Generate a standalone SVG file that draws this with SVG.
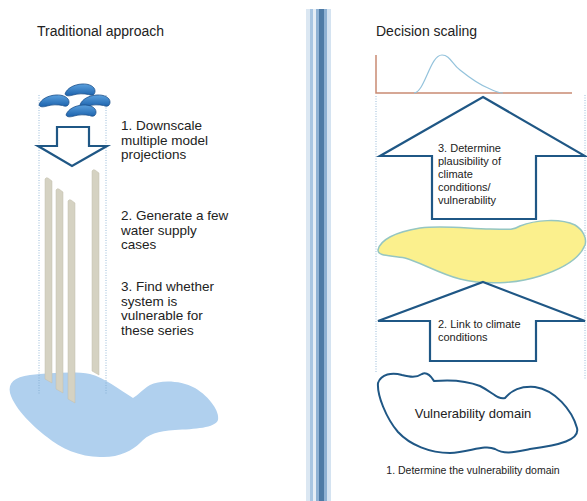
<svg xmlns="http://www.w3.org/2000/svg" width="587" height="501" viewBox="0 0 587 501">
<defs>
<linearGradient id="cg" x1="0" y1="0" x2="0" y2="1">
<stop offset="0" stop-color="#5aa0de"/>
<stop offset="1" stop-color="#1c62ac"/>
</linearGradient>
<path id="cloud" d="M0,10 C2,4 9,0.5 17,0 C24,-0.5 30,2.5 30,7 C30,11 27,12 23.5,10.5 C19,9.5 13,9.5 8,11 C5,12 1,12.5 0,10 Z"/>
</defs>
<style>
.t{font-family:"Liberation Sans",Arial,sans-serif;fill:#222;}
.dot{stroke:#7fa9cf;stroke-width:0.8;stroke-dasharray:1 1.5;fill:none;}
.arr{fill:#fff;stroke:#1f5785;stroke-width:2.2;stroke-linejoin:miter;}
.bar{fill:#d5d2c2;stroke:#c2bfad;stroke-width:0.5;}
.cl{fill:url(#cg);stroke:#1a4f8a;stroke-width:0.8;}
</style>
<rect width="587" height="501" fill="#fff"/>

<g id="divider">
<rect x="306" y="9" width="4" height="492" fill="#dbe7f2"/>
<rect x="310" y="9" width="3" height="492" fill="#a9c6e2"/>
<rect x="313" y="9" width="3" height="492" fill="#e6eef6"/>
<rect x="316" y="9" width="3" height="492" fill="#8fb2d4"/>
<rect x="319" y="9" width="5" height="492" fill="#4d7aa5"/>
<rect x="324" y="9" width="3" height="492" fill="#8db0d2"/>
<rect x="327" y="9" width="4" height="492" fill="#d4e3f1"/>
</g>

<g id="left-panel">
<text class="t" x="37" y="36" font-size="14">Traditional approach</text>
<path id="water" d="M10,393 C8,383 14,377 30,375 C50,373 75,371 90,374 C105,378 120,390 133,398 C138,395 142,390 150,385 C160,380 180,380 195,388 C210,397 220,412 218,420 C215,428 195,429 175,430 C158,431 148,434 140,443 C132,451 118,458 100,457 C80,457 60,448 47,437 C35,428 15,410 10,393 Z" fill="#b0d0ee"/>
<g id="bars">
<path class="bar" d="M45,179 Q46,177 48,178 L52,181 L52,383 L45,379 Z"/>
<path class="bar" d="M56,190 Q57,188 59,189 L63,192 L63,393 L56,389 Z"/>
<path class="bar" d="M68,201 Q69,199 71,200 L75,203 L75,403 L68,399 Z"/>
<path class="bar" d="M92,171 Q93,169 95,170 L99,173 L99,375 L92,371 Z"/>
</g>
<line class="dot" x1="39" y1="95" x2="39" y2="394"/>
<line class="dot" x1="106" y1="95" x2="106" y2="394"/>
<g id="clouds">
<use href="#cloud" class="cl" transform="translate(65,84)"/>
<use href="#cloud" class="cl" transform="translate(39,95)"/>
<use href="#cloud" class="cl" transform="translate(80,95)"/>
<use href="#cloud" class="cl" transform="translate(66,105)"/>
</g>
<path id="down-arrow" class="arr" d="M57,127 H89 V146 H107 L72,166 L38,146 H57 Z"/>
<g id="step1-left">
<text class="t" x="121" y="130" font-size="13.5">1. Downscale</text>
<text class="t" x="121" y="144.5" font-size="13.5">multiple model</text>
<text class="t" x="121" y="159" font-size="13.5">projections</text>
</g>
<g id="step2-left">
<text class="t" x="121" y="220" font-size="13.5">2. Generate a few</text>
<text class="t" x="121" y="234.5" font-size="13.5">water supply</text>
<text class="t" x="121" y="249" font-size="13.5">cases</text>
</g>
<g id="step3-left">
<text class="t" x="121" y="291" font-size="13.5">3. Find whether</text>
<text class="t" x="121" y="305.5" font-size="13.5">system is</text>
<text class="t" x="121" y="320" font-size="13.5">vulnerable for</text>
<text class="t" x="121" y="334.5" font-size="13.5">these series</text>
</g>
</g>

<g id="right-panel">
<text class="t" x="376" y="36" font-size="14">Decision scaling</text>
<g id="chart">
<path d="M376,55 V93 H572" fill="none" stroke="#c98b73" stroke-width="1.5"/>
<path d="M414,93 C425,92 430,55 442,55 C450,55 452,64 460,70 C470,78 478,84 488,88 C494,91 498,93 503,93" fill="none" stroke="#94c3dc" stroke-width="1.2"/>
</g>
<line class="dot" x1="376" y1="96" x2="376" y2="372"/>
<line class="dot" x1="585" y1="95" x2="585" y2="380"/>
<g id="arrow3">
<path class="arr" d="M483,97 L585,156 H536 V219 H432 V156 H380 Z"/>
<text class="t" x="438" y="152" font-size="11">3. Determine</text>
<text class="t" x="438" y="165" font-size="11">plausibility of</text>
<text class="t" x="438" y="178" font-size="11">climate</text>
<text class="t" x="438" y="191" font-size="11">conditions/</text>
<text class="t" x="438" y="204" font-size="11">vulnerability</text>
</g>
<path id="yellow-blob" d="M378,250 C380,240 395,232 420,228 C445,225 470,229 490,229 C505,229 512,231 520,226 C535,220 560,218 575,225 C583,230 587,238 585,245 C580,258 565,268 540,276 C515,284 485,285 460,279 C440,274 420,262 405,258 C392,255 378,257 378,250 Z" fill="#fbf08d" stroke="#95c6c2" stroke-width="1.5"/>
<g id="arrow2">
<path class="arr" d="M483,282 L585,321 H536 V361 H430 V321 H378 Z"/>
<text class="t" x="438" y="328" font-size="11">2. Link to climate</text>
<text class="t" x="438" y="341" font-size="11">conditions</text>
</g>
<g id="vulnerability">
<path d="M378,383 C381,374 392,372 402,375 C410,377 416,378 422,374 C428,371 432,378 434,381 C445,380 465,380 480,386 C492,392 498,400 505,398 C512,390 520,386 535,387 C555,390 572,410 577,428 C580,440 560,445 530,449 C515,452 505,455 495,449 C485,444 470,452 450,453 C430,453 410,445 398,432 C386,418 377,395 378,383 Z" fill="#fff" stroke="#1f5785" stroke-width="2"/>
<text class="t" x="473" y="418" font-size="13" text-anchor="middle">Vulnerability domain</text>
</g>
<text class="t" x="473" y="474" font-size="10.5" text-anchor="middle">1. Determine the vulnerability domain</text>
</g>
</svg>
